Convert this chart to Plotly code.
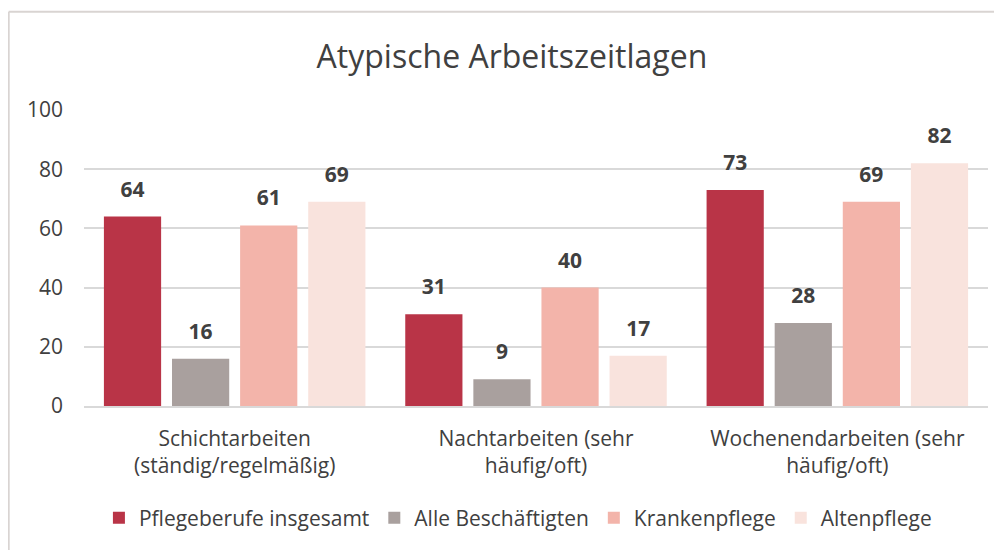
import plotly.graph_objects as go

categories = ["Schichtarbeiten<br>(ständig/regelmäßig)", "Nachtarbeiten (sehr<br>häufig/oft)", "Wochenendarbeiten (sehr<br>häufig/oft)"]
series_names = ["Pflegeberufe insgesamt", "Alle Beschäftigten", "Krankenpflege", "Altenpflege"]
pflege = [64, 31, 73]
alle = [16, 9, 28]
kranken = [61, 40, 69]
alten = [69, 17, 82]
colors = ["#B93447", "#A9A09E", "#F3B4AA", "#F9E3DD"]
y_ticks = [0, 20, 40, 60, 80, 100]

font_family = "'Open Sans', Lato, sans-serif"
text_col = "#404040"
BARGAP = 0.096

fig = go.Figure()
for i, (name, vals, col) in enumerate(zip(series_names, [pflege, alle, kranken, alten], colors)):
    fig.add_trace(go.Bar(
        x=categories, y=vals, name=name, marker=dict(color=col, line=dict(width=0)),
        offsetgroup=str(i), hoverinfo="x+y+name",
    ))
for i, vals in enumerate([pflege, alle, kranken, alten]):
    fig.add_trace(go.Scatter(
        x=categories, y=vals, mode="markers+text", text=[str(v) for v in vals],
        textposition="top center", offsetgroup=str(i), showlegend=False, hoverinfo="skip",
        marker=dict(size=22, opacity=0), cliponaxis=False,
        textfont=dict(family=font_family, size=21, color=text_col, weight="bold"),
    ))

fig.update_layout(
    width=994, height=542,
    margin=dict(l=76, r=14, t=102, b=142),
    paper_bgcolor="white", plot_bgcolor="white",
    barmode="group", bargap=BARGAP, bargroupgap=0.16,
    scattermode="group", scattergap=BARGAP,
    title=dict(text="Atypische Arbeitszeitlagen", x=0.507, xanchor="center", y=0.9096, yanchor="middle",
               font=dict(family=font_family, size=32, color=text_col)),
    font=dict(family=font_family, color=text_col),
    xaxis=dict(showgrid=False, showline=True, linecolor="#D9D9D9", linewidth=1.5,
               tickfont=dict(size=21, color=text_col), ticks="", ticklabelstandoff=13),
    yaxis=dict(range=[0, 100], tickvals=y_ticks, showgrid=True, gridcolor="#D9D9D9", gridwidth=1.5,
               zeroline=False, tickfont=dict(size=21, color=text_col), ticklabelstandoff=20),
    legend=dict(orientation="h", x=0.48, xanchor="center", y=-0.379, yanchor="middle",
                font=dict(size=21, color=text_col), itemwidth=30),
    showlegend=True,
)

# chart frame (cropped at right and bottom)
fig.add_shape(type="line", xref="paper", yref="paper", x0=-0.0833, x1=1.1, y0=1.332, y1=1.332,
              line=dict(color="#D9D4D2", width=2))
fig.add_shape(type="line", xref="paper", yref="paper", x0=-0.0833, x1=-0.0833, y0=1.332, y1=-0.6,
              line=dict(color="#D9D4D2", width=2))

fig.write_html("out.html")
